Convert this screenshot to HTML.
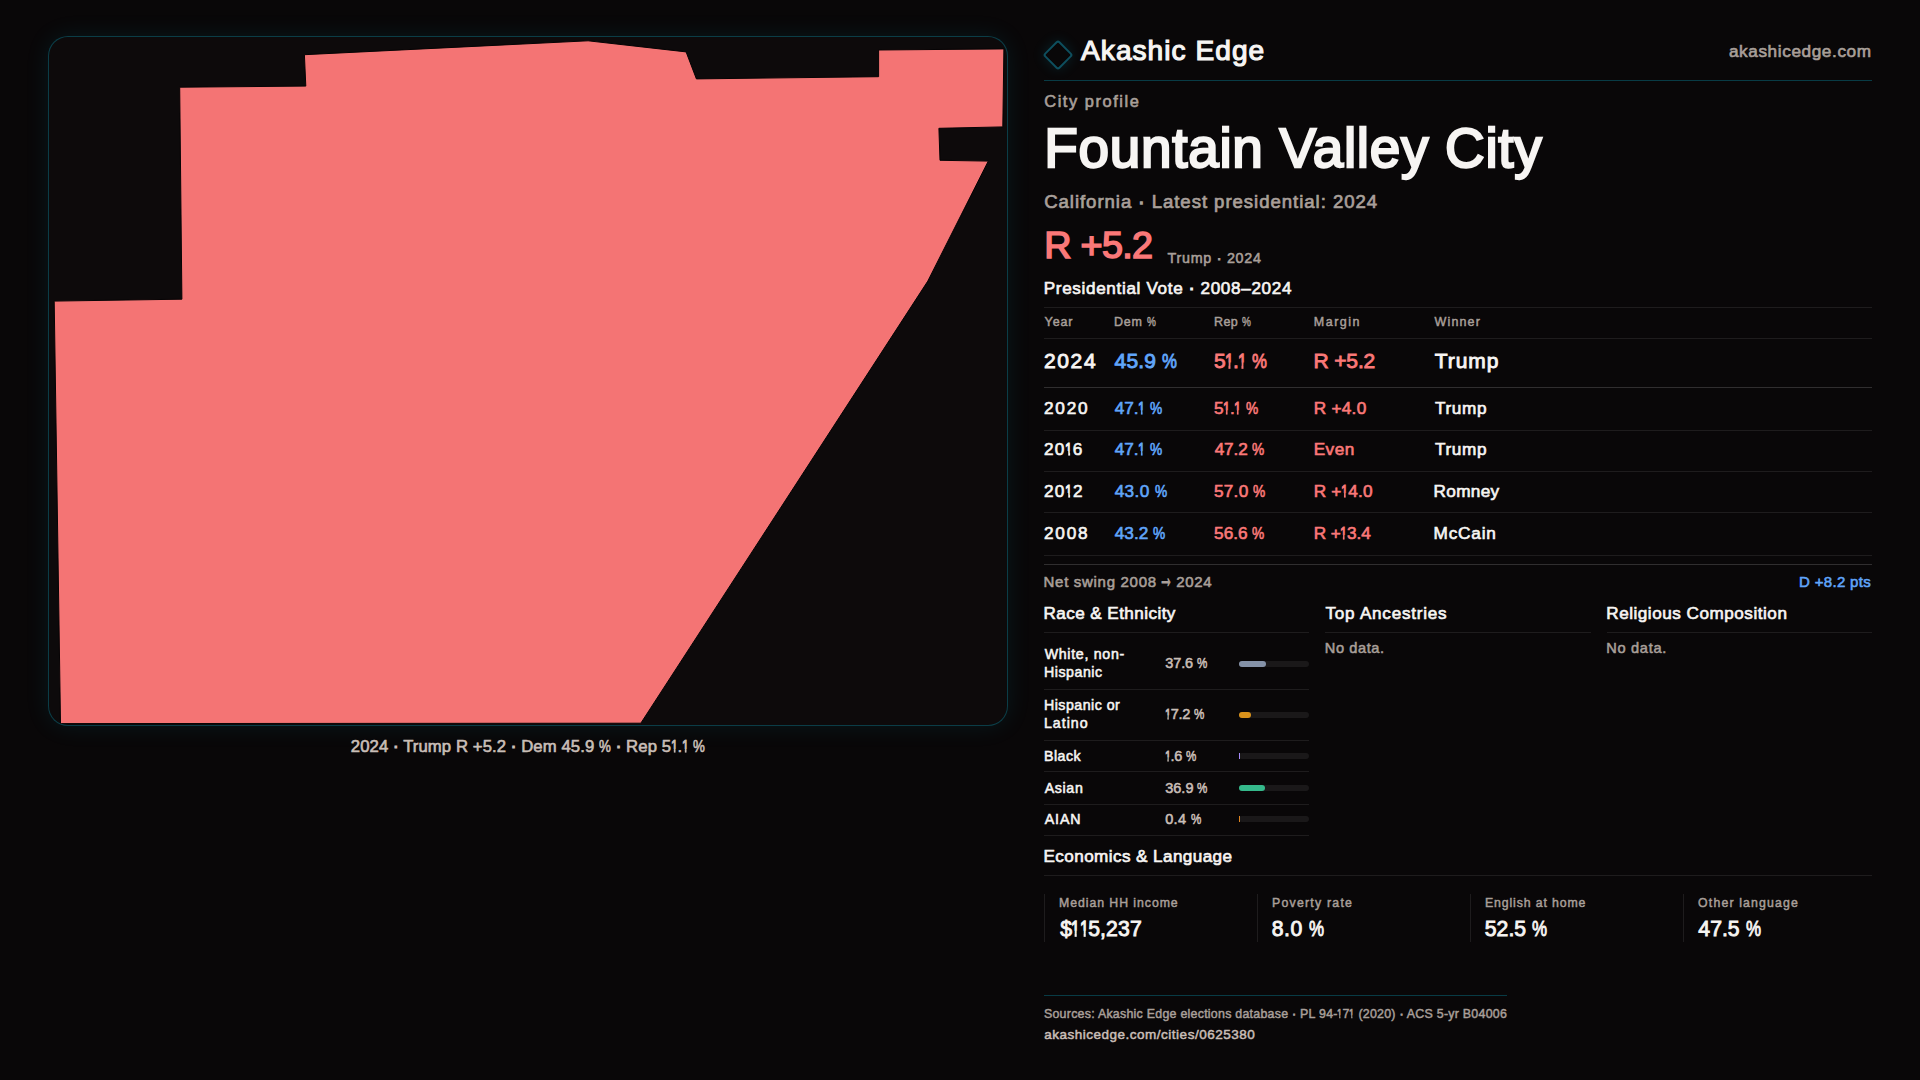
<!DOCTYPE html>
<html lang="en"><head><meta charset="utf-8"><title>Fountain Valley City — City profile · Akashic Edge</title>
<style>
html,body{margin:0;padding:0;}
body{width:1920px;height:1080px;overflow:hidden;background:#090708;font-family:"Liberation Sans", sans-serif;position:relative;}
.t{position:absolute;white-space:pre;line-height:1;margin:0;font-weight:400;}
.n1{display:inline-block;-webkit-text-stroke:0.06em currentColor;transform:scaleX(.74);transform-origin:0 50%;margin:0 -0.15em 0 -0.03em;clip-path:polygon(0 0,100% 0,100% 60%,66% 60%,66% 70%,65% 70%,65% 100%,41% 100%,41% 70%,40% 70%,40% 60%,0 60%)}
.dot{-webkit-text-stroke:0.07em currentColor}
.arr{display:inline-block;transform:translateY(-0.19em) scale(.93,2);transform-origin:0 68%;margin:0 -0.23em 0 -0.17em}
.pc{display:inline-block;transform:scaleX(.8);transform-origin:0 50%;margin-right:-0.178em}
.rule{position:absolute;height:1px;}
.vrule{position:absolute;width:1px;background:rgba(255,255,255,0.085);}
.map{position:absolute;left:48px;top:36px;width:958px;height:688px;border:1px solid rgba(6,182,212,0.30);border-radius:20px;background:#0d0a0b;box-shadow:0 0 24px rgba(6,182,212,0.10);overflow:hidden;margin:0}
.map svg{position:absolute;left:0;top:0;display:block}
.logo{position:absolute;left:1046.9px;top:44.3px;width:18px;height:18px;border:2px solid #0e4f5e;border-radius:3px;transform:rotate(45deg);box-shadow:0 0 14px rgba(6,182,212,0.16);}
.track{position:absolute;left:1239px;width:70px;height:6px;border-radius:3px;background:rgba(255,255,255,0.072)}
.track i{display:block;height:6px}
</style></head>
<body>
<figure class="map"><svg width="958" height="688" viewBox="0 0 958 688" role="img" aria-label="City boundary"><polygon points="255.4,17.7 539.1,3.8 637.1,14.9 647.4,41.9 829.6,39.7 829.6,13.0 954.9,11.9 953.8,89.9 889.9,91.3 891.0,123.3 939.3,124.1 878.8,244.1 591.8,686.2 11.5,686.6 5.2,264.1 132.9,262.2 130.7,50.2 256.8,49.1" fill="#f47474" stroke="#060405" stroke-width="1" stroke-linejoin="miter"/></svg></figure>
<div class="caption">
<span class="t cap" style="left:350.87px;top:739.26px;font-size:16.7px;letter-spacing:0.091px;color:#c9beb7;-webkit-text-stroke:0.63px #c9beb7;">2024 <span class="dot">·</span> Trump R +5.2 <span class="dot">·</span> Dem 45.9 <span class="pc">%</span> <span class="dot">·</span> Rep 5<span class="n1">1</span>.<span class="n1">1</span> <span class="pc">%</span></span>
</div>
<main class="panel">
<header class="brandbar">
<div class="logo"></div>
<div class="rule" style="left:1044px;top:80px;width:828.00px;background:rgba(6,182,212,0.30)"></div>
<span class="t brand" style="left:1081.04px;top:37.46px;font-size:28.1px;letter-spacing:1.031px;color:#f7f5f3;-webkit-text-stroke:1.18px #f7f5f3;">Akashic Edge</span>
<span class="t site" style="left:1728.92px;top:43.24px;font-size:17.2px;letter-spacing:0.599px;color:#a89f99;-webkit-text-stroke:0.65px #a89f99;">akashicedge.com</span>
</header>
<section class="intro">
<span class="t eyebrow" style="left:1044.29px;top:92.87px;font-size:16.4px;letter-spacing:1.550px;color:#a89f99;-webkit-text-stroke:0.62px #a89f99;">City profile</span>
<h1 class="t title" style="left:1044.32px;top:120.73px;font-size:54.9px;letter-spacing:0.703px;color:#f7f5f3;-webkit-text-stroke:2.31px #f7f5f3;">Fountain Valley City</h1>
<span class="t sub" style="left:1044.17px;top:193.16px;font-size:18.6px;letter-spacing:0.953px;color:#a89f99;-webkit-text-stroke:0.71px #a89f99;">California <span class="dot">·</span> Latest presidential: 2024</span>
<span class="t hero" style="left:1044.30px;top:226.90px;font-size:37.8px;letter-spacing:-0.750px;color:#fa7878;-webkit-text-stroke:1.59px #fa7878;">R +5.2</span>
<span class="t herosub" style="left:1167.60px;top:251.10px;font-size:14.3px;letter-spacing:0.731px;color:#a89f99;-webkit-text-stroke:0.54px #a89f99;">Trump <span class="dot">·</span> 2024</span>
</section>
<section class="vote">
<div class="rule" style="left:1044px;top:307px;width:828.00px;background:rgba(255,255,255,0.085)"></div>
<div class="rule" style="left:1044px;top:338px;width:828.00px;background:rgba(255,255,255,0.085)"></div>
<div class="rule" style="left:1044px;top:387px;width:828.00px;background:rgba(255,255,255,0.16)"></div>
<div class="rule" style="left:1044px;top:430px;width:828.00px;background:rgba(255,255,255,0.085)"></div>
<div class="rule" style="left:1044px;top:471px;width:828.00px;background:rgba(255,255,255,0.085)"></div>
<div class="rule" style="left:1044px;top:512px;width:828.00px;background:rgba(255,255,255,0.085)"></div>
<div class="rule" style="left:1044px;top:555px;width:828.00px;background:rgba(255,255,255,0.085)"></div>
<div class="rule" style="left:1044px;top:564px;width:828.00px;background:rgba(255,255,255,0.16)"></div>
<h2 class="t h" style="left:1043.74px;top:280.12px;font-size:17.1px;letter-spacing:0.665px;color:#f7f5f3;-webkit-text-stroke:0.65px #f7f5f3;">Presidential Vote <span class="dot">·</span> 2008–2024</h2>
<span class="t th" style="left:1044.55px;top:316.02px;font-size:12.5px;letter-spacing:0.903px;color:#a89f99;-webkit-text-stroke:0.47px #a89f99;">Year</span>
<span class="t th" style="left:1113.98px;top:316.02px;font-size:12.5px;letter-spacing:0.795px;color:#a89f99;-webkit-text-stroke:0.47px #a89f99;">Dem <span class="pc">%</span></span>
<span class="t th" style="left:1213.98px;top:316.02px;font-size:12.5px;letter-spacing:0.410px;color:#a89f99;-webkit-text-stroke:0.47px #a89f99;">Rep <span class="pc">%</span></span>
<span class="t th" style="left:1313.87px;top:316.02px;font-size:12.5px;letter-spacing:1.478px;color:#a89f99;-webkit-text-stroke:0.47px #a89f99;">Margin</span>
<span class="t th" style="left:1434.61px;top:316.02px;font-size:12.5px;letter-spacing:1.120px;color:#a89f99;-webkit-text-stroke:0.47px #a89f99;">Winner</span>
<span class="t td big" style="left:1043.89px;top:349.97px;font-size:21.0px;letter-spacing:1.671px;color:#f7f5f3;-webkit-text-stroke:0.88px #f7f5f3;">2024</span>
<span class="t td big" style="left:1114.58px;top:349.97px;font-size:21.0px;letter-spacing:0.194px;color:#60a5fa;-webkit-text-stroke:0.88px #60a5fa;">45.9 <span class="pc">%</span></span>
<span class="t td big" style="left:1214.09px;top:349.97px;font-size:21.0px;letter-spacing:-0.310px;color:#fa7878;-webkit-text-stroke:0.88px #fa7878;">5<span class="n1">1</span>.<span class="n1">1</span> <span class="pc">%</span></span>
<span class="t td big" style="left:1313.57px;top:349.97px;font-size:21.0px;letter-spacing:-0.154px;color:#fa7878;-webkit-text-stroke:0.88px #fa7878;">R +5.2</span>
<span class="t td big" style="left:1434.66px;top:349.97px;font-size:21.0px;letter-spacing:0.973px;color:#f7f5f3;-webkit-text-stroke:0.88px #f7f5f3;">Trump</span>
<span class="t td" style="left:1044.01px;top:399.84px;font-size:17.2px;letter-spacing:1.759px;color:#f7f5f3;-webkit-text-stroke:0.65px #f7f5f3;">2020</span>
<span class="t td" style="left:1114.65px;top:399.84px;font-size:17.2px;letter-spacing:-0.040px;color:#60a5fa;-webkit-text-stroke:0.65px #60a5fa;">47.<span class="n1">1</span> <span class="pc">%</span></span>
<span class="t td" style="left:1214.05px;top:399.84px;font-size:17.2px;letter-spacing:-0.071px;color:#fa7878;-webkit-text-stroke:0.65px #fa7878;">5<span class="n1">1</span>.<span class="n1">1</span> <span class="pc">%</span></span>
<span class="t td" style="left:1313.66px;top:399.84px;font-size:17.2px;letter-spacing:0.293px;color:#fa7878;-webkit-text-stroke:0.65px #fa7878;">R +4.0</span>
<span class="t td" style="left:1434.98px;top:399.84px;font-size:17.2px;letter-spacing:0.614px;color:#f7f5f3;-webkit-text-stroke:0.65px #f7f5f3;">Trump</span>
<span class="t td" style="left:1044.01px;top:440.64px;font-size:17.2px;letter-spacing:1.088px;color:#f7f5f3;-webkit-text-stroke:0.65px #f7f5f3;">20<span class="n1">1</span>6</span>
<span class="t td" style="left:1114.65px;top:440.64px;font-size:17.2px;letter-spacing:-0.040px;color:#60a5fa;-webkit-text-stroke:0.65px #60a5fa;">47.<span class="n1">1</span> <span class="pc">%</span></span>
<span class="t td" style="left:1214.65px;top:440.64px;font-size:17.2px;letter-spacing:-0.090px;color:#fa7878;-webkit-text-stroke:0.65px #fa7878;">47.2 <span class="pc">%</span></span>
<span class="t td" style="left:1313.66px;top:440.64px;font-size:17.2px;letter-spacing:0.474px;color:#fa7878;-webkit-text-stroke:0.65px #fa7878;">Even</span>
<span class="t td" style="left:1434.98px;top:440.64px;font-size:17.2px;letter-spacing:0.614px;color:#f7f5f3;-webkit-text-stroke:0.65px #f7f5f3;">Trump</span>
<span class="t td" style="left:1044.01px;top:482.64px;font-size:17.2px;letter-spacing:1.101px;color:#f7f5f3;-webkit-text-stroke:0.65px #f7f5f3;">20<span class="n1">1</span>2</span>
<span class="t td" style="left:1114.65px;top:482.64px;font-size:17.2px;letter-spacing:0.410px;color:#60a5fa;-webkit-text-stroke:0.65px #60a5fa;">43.0 <span class="pc">%</span></span>
<span class="t td" style="left:1214.05px;top:482.64px;font-size:17.2px;letter-spacing:0.229px;color:#fa7878;-webkit-text-stroke:0.65px #fa7878;">57.0 <span class="pc">%</span></span>
<span class="t td" style="left:1313.66px;top:482.64px;font-size:17.2px;letter-spacing:0.214px;color:#fa7878;-webkit-text-stroke:0.65px #fa7878;">R +<span class="n1">1</span>4.0</span>
<span class="t td" style="left:1433.60px;top:482.64px;font-size:17.2px;letter-spacing:0.300px;color:#f7f5f3;-webkit-text-stroke:0.65px #f7f5f3;">Romney</span>
<span class="t td" style="left:1044.01px;top:524.74px;font-size:17.2px;letter-spacing:1.771px;color:#f7f5f3;-webkit-text-stroke:0.65px #f7f5f3;">2008</span>
<span class="t td" style="left:1114.65px;top:524.74px;font-size:17.2px;letter-spacing:0.110px;color:#60a5fa;-webkit-text-stroke:0.65px #60a5fa;">43.2 <span class="pc">%</span></span>
<span class="t td" style="left:1214.05px;top:524.74px;font-size:17.2px;letter-spacing:0.029px;color:#fa7878;-webkit-text-stroke:0.65px #fa7878;">56.6 <span class="pc">%</span></span>
<span class="t td" style="left:1313.66px;top:524.74px;font-size:17.2px;letter-spacing:-0.081px;color:#fa7878;-webkit-text-stroke:0.65px #fa7878;">R +<span class="n1">1</span>3.4</span>
<span class="t td" style="left:1433.60px;top:524.74px;font-size:17.2px;letter-spacing:0.808px;color:#f7f5f3;-webkit-text-stroke:0.65px #f7f5f3;">McCain</span>
<span class="t swing" style="left:1043.58px;top:573.90px;font-size:15.0px;letter-spacing:0.695px;color:#a89f99;-webkit-text-stroke:0.57px #a89f99;">Net swing 2008 <span class="arr">→</span> 2024</span>
<span class="t swingv" style="left:1799.11px;top:573.90px;font-size:15.0px;letter-spacing:0.309px;color:#60a5fa;-webkit-text-stroke:0.57px #60a5fa;">D +8.2 pts</span>
</section>
<section class="demographics">
<div class="rule" style="left:1044px;top:632px;width:265.33px;background:rgba(255,255,255,0.085)"></div>
<div class="rule" style="left:1325.33px;top:632px;width:265.34px;background:rgba(255,255,255,0.085)"></div>
<div class="rule" style="left:1606.67px;top:632px;width:265.33px;background:rgba(255,255,255,0.085)"></div>
<div class="rule" style="left:1044px;top:689px;width:265.33px;background:rgba(255,255,255,0.085)"></div>
<div class="rule" style="left:1044px;top:740px;width:265.33px;background:rgba(255,255,255,0.085)"></div>
<div class="rule" style="left:1044px;top:771px;width:265.33px;background:rgba(255,255,255,0.085)"></div>
<div class="rule" style="left:1044px;top:804px;width:265.33px;background:rgba(255,255,255,0.085)"></div>
<div class="rule" style="left:1044px;top:835px;width:265.33px;background:rgba(255,255,255,0.085)"></div>
<div class="track" style="top:661px"><i style="width:27px;background:#8592a8;border-radius:3px"></i></div>
<div class="track" style="top:712px"><i style="width:12px;background:#d9921b;border-radius:3px"></i></div>
<div class="track" style="top:753px"><i style="width:1px;background:#a78bfa;border-radius:0px"></i></div>
<div class="track" style="top:785px"><i style="width:26px;background:#35b98b;border-radius:3px"></i></div>
<div class="track" style="top:816px"><i style="width:1px;background:#de8420;border-radius:0px"></i></div>
<h2 class="t h" style="left:1043.49px;top:605.22px;font-size:17.1px;letter-spacing:0.431px;color:#f7f5f3;-webkit-text-stroke:0.65px #f7f5f3;">Race &amp; Ethnicity</h2>
<h2 class="t h" style="left:1325.48px;top:605.22px;font-size:17.1px;letter-spacing:0.771px;color:#f7f5f3;-webkit-text-stroke:0.65px #f7f5f3;">Top Ancestries</h2>
<h2 class="t h" style="left:1606.29px;top:605.22px;font-size:17.1px;letter-spacing:0.528px;color:#f7f5f3;-webkit-text-stroke:0.65px #f7f5f3;">Religious Composition</h2>
<span class="t nodata" style="left:1324.85px;top:640.54px;font-size:14.6px;letter-spacing:0.583px;color:#a89f99;-webkit-text-stroke:0.55px #a89f99;">No data.</span>
<span class="t nodata" style="left:1606.35px;top:640.54px;font-size:14.6px;letter-spacing:0.673px;color:#a89f99;-webkit-text-stroke:0.55px #a89f99;">No data.</span>
<span class="t rl" style="left:1044.71px;top:646.98px;font-size:14.2px;letter-spacing:0.694px;color:#f7f5f3;-webkit-text-stroke:0.54px #f7f5f3;">White, non-</span>
<span class="t rl" style="left:1043.94px;top:664.68px;font-size:14.2px;letter-spacing:0.543px;color:#f7f5f3;-webkit-text-stroke:0.54px #f7f5f3;">Hispanic</span>
<span class="t rv" style="left:1165.28px;top:655.83px;font-size:14.5px;letter-spacing:-0.112px;color:#c9beb7;-webkit-text-stroke:0.55px #c9beb7;">37.6 <span class="pc">%</span></span>
<span class="t rl" style="left:1043.94px;top:697.78px;font-size:14.2px;letter-spacing:0.488px;color:#f7f5f3;-webkit-text-stroke:0.54px #f7f5f3;">Hispanic or</span>
<span class="t rl" style="left:1043.94px;top:716.48px;font-size:14.2px;letter-spacing:0.991px;color:#f7f5f3;-webkit-text-stroke:0.54px #f7f5f3;">Latino</span>
<span class="t rv" style="left:1165.40px;top:706.53px;font-size:14.5px;letter-spacing:-0.236px;color:#c9beb7;-webkit-text-stroke:0.55px #c9beb7;"><span class="n1">1</span>7.2 <span class="pc">%</span></span>
<span class="t rl" style="left:1043.94px;top:748.78px;font-size:14.2px;letter-spacing:0.521px;color:#f7f5f3;-webkit-text-stroke:0.54px #f7f5f3;">Black</span>
<span class="t rv" style="left:1165.40px;top:748.53px;font-size:14.5px;letter-spacing:-0.279px;color:#c9beb7;-webkit-text-stroke:0.55px #c9beb7;"><span class="n1">1</span>.6 <span class="pc">%</span></span>
<span class="t rl" style="left:1044.66px;top:780.88px;font-size:14.2px;letter-spacing:0.669px;color:#f7f5f3;-webkit-text-stroke:0.54px #f7f5f3;">Asian</span>
<span class="t rv" style="left:1165.28px;top:780.63px;font-size:14.5px;letter-spacing:-0.012px;color:#c9beb7;-webkit-text-stroke:0.55px #c9beb7;">36.9 <span class="pc">%</span></span>
<span class="t rl" style="left:1044.66px;top:811.78px;font-size:14.2px;letter-spacing:0.925px;color:#f7f5f3;-webkit-text-stroke:0.54px #f7f5f3;">AIAN</span>
<span class="t rv" style="left:1165.14px;top:811.53px;font-size:14.5px;letter-spacing:0.410px;color:#c9beb7;-webkit-text-stroke:0.55px #c9beb7;">0.4 <span class="pc">%</span></span>
</section>
<section class="economics">
<div class="rule" style="left:1044px;top:875px;width:828.00px;background:rgba(255,255,255,0.085)"></div>
<div class="vrule" style="left:1044px;top:894px;height:48px"></div>
<div class="vrule" style="left:1257px;top:894px;height:48px"></div>
<div class="vrule" style="left:1470px;top:894px;height:48px"></div>
<div class="vrule" style="left:1683px;top:894px;height:48px"></div>
<h2 class="t h" style="left:1043.49px;top:848.12px;font-size:17.1px;letter-spacing:0.421px;color:#f7f5f3;-webkit-text-stroke:0.65px #f7f5f3;">Economics &amp; Language</h2>
<span class="t el" style="left:1059.04px;top:897.39px;font-size:12.3px;letter-spacing:0.940px;color:#a89f99;-webkit-text-stroke:0.47px #a89f99;">Median HH income</span>
<span class="t ev" style="left:1060.17px;top:918.05px;font-size:21.2px;letter-spacing:0.101px;color:#f7f5f3;-webkit-text-stroke:0.89px #f7f5f3;">$<span class="n1">1</span><span class="n1">1</span>5,237</span>
<span class="t el" style="left:1272.00px;top:897.39px;font-size:12.3px;letter-spacing:1.240px;color:#a89f99;-webkit-text-stroke:0.47px #a89f99;">Poverty rate</span>
<span class="t ev" style="left:1271.76px;top:918.05px;font-size:21.2px;letter-spacing:0.480px;color:#f7f5f3;-webkit-text-stroke:0.89px #f7f5f3;">8.0 <span class="pc">%</span></span>
<span class="t el" style="left:1484.92px;top:897.39px;font-size:12.3px;letter-spacing:0.883px;color:#a89f99;-webkit-text-stroke:0.47px #a89f99;">English at home</span>
<span class="t ev" style="left:1484.81px;top:918.05px;font-size:21.2px;letter-spacing:0.017px;color:#f7f5f3;-webkit-text-stroke:0.89px #f7f5f3;">52.5 <span class="pc">%</span></span>
<span class="t el" style="left:1698.08px;top:897.39px;font-size:12.3px;letter-spacing:1.160px;color:#a89f99;-webkit-text-stroke:0.47px #a89f99;">Other language</span>
<span class="t ev" style="left:1698.33px;top:918.05px;font-size:21.2px;letter-spacing:0.014px;color:#f7f5f3;-webkit-text-stroke:0.89px #f7f5f3;">47.5 <span class="pc">%</span></span>
</section>
<footer class="sources">
<div class="rule" style="left:1044px;top:995px;width:463.00px;background:rgba(6,182,212,0.30)"></div>
<span class="t src" style="left:1043.94px;top:1007.75px;font-size:12.4px;letter-spacing:0.254px;color:#a89f99;-webkit-text-stroke:0.47px #a89f99;">Sources: Akashic Edge elections database <span class="dot">·</span> PL 94-<span class="n1">1</span>7<span class="n1">1</span> (2020) <span class="dot">·</span> ACS 5-yr B04006</span>
<span class="t url" style="left:1044.27px;top:1028.32px;font-size:13.5px;letter-spacing:0.502px;color:#c9beb7;-webkit-text-stroke:0.51px #c9beb7;">akashicedge.com/cities/0625380</span>
</footer>
</main>
</body></html>
